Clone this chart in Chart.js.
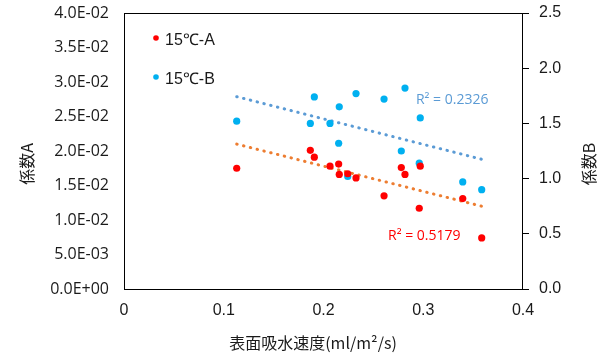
<!DOCTYPE html>
<html>
<head>
<meta charset="utf-8">
<script src="https://cdn.jsdelivr.net/npm/chart.js@4"></script>
<style>
  html, body { margin: 0; padding: 0; background: #fff; }
</style>
</head>
<body>
<canvas id="chart" width="599" height="354"></canvas>
<script>
// surface absorption rate (x) shared by both series
const absorption = [0.113, 0.1868, 0.1908, 0.2065, 0.2152, 0.2158, 0.2243, 0.2326, 0.2607, 0.278, 0.2817, 0.296, 0.297, 0.3396, 0.3586];
const coefA = [0.0175, 0.0201, 0.0191, 0.0178, 0.0181, 0.0166, 0.0167, 0.0161, 0.0135, 0.0176, 0.0166, 0.0117, 0.0178, 0.0131, 0.0074];
const coefB = [1.52, 1.50, 1.74, 1.50, 1.32, 1.65, 1.02, 1.77, 1.72, 1.25, 1.82, 1.14, 1.55, 0.97, 0.90];

// trendline end points
const trendX = [0.113, 0.3586];
const trendA = [0.0210, 0.0120];
const trendB = [1.742, 1.175];

const seriesNames = ["15℃-A", "15℃-B"];
const r2Labels = ["R² = 0.5179", "R² = 0.2326"];

const toPoints = (xs, ys) => xs.map((x, i) => ({ x: x, y: ys[i] }));

const tickFont = { family: "Liberation Sans", size: 16 };
const textColor = "#1a1a1a";

function sciLabel(v) {
  const parts = Number(v).toExponential(1).split("e");
  const sign = parts[1][0];
  const digits = parts[1].slice(1).padStart(2, "0");
  return parts[0] + "E" + sign + digits;
}

// fixed axis sizes so the plot box lands where it does in the original
function fixWidth(w) {
  return (s) => { s.width = w; s.paddingTop = 0; s.paddingBottom = 0; };
}

// box border, legend, R² text and axis titles
const decorations = {
  id: "decorations",
  beforeDatasetsDraw(chart) {
    const { ctx, chartArea: a } = chart;
    ctx.save();
    ctx.strokeStyle = "#000";
    ctx.lineWidth = 1;
    ctx.strokeRect(Math.round(a.left) + 0.5, Math.round(a.top) + 0.5,
      Math.round(a.right - a.left) - 1, Math.round(a.bottom - a.top));
    ctx.restore();
  },
  afterDraw(chart) {
    const { ctx, chartArea: a, scales } = chart;
    ctx.save();

    // legend inside plot
    const legendColors = ["#FF0000", "#00B0F0"];
    ctx.font = "16px 'Liberation Sans'";
    ctx.textBaseline = "middle";
    ctx.textAlign = "left";
    seriesNames.forEach((name, i) => {
      const y = a.top + 25 + i * 39;
      ctx.fillStyle = legendColors[i];
      ctx.beginPath();
      ctx.arc(a.left + 32, y, 2.8, 0, Math.PI * 2);
      ctx.fill();
      ctx.fillStyle = textColor;
      ctx.fillText(name, a.left + 41, y + 3);
    });

    // R² labels
    ctx.font = "14px 'Open Sans'";
    ctx.fillStyle = "#FF0000";
    ctx.fillText(r2Labels[0], scales.x.getPixelForValue(0.2647), scales.y.getPixelForValue(0.0077));
    ctx.fillStyle = "#5B9BD5";
    ctx.fillText(r2Labels[1], scales.x.getPixelForValue(0.2927), scales.y2.getPixelForValue(1.71));

    // axis titles
    ctx.fillStyle = textColor;
    ctx.font = "16px 'Noto Sans CJK JP'";
    ctx.textAlign = "center";
    ctx.save();
    ctx.translate(27, 164);
    ctx.rotate(-Math.PI / 2);
    ctx.fillText("係数A", 0, 0);
    ctx.restore();
    ctx.save();
    ctx.translate(589, 164);
    ctx.rotate(-Math.PI / 2);
    ctx.fillText("係数B", 0, 0);
    ctx.restore();
    ctx.fillText("表面吸水速度(ml/m²/s)", 313, 343);

    ctx.restore();
  }
};

const ctx = document.getElementById("chart").getContext("2d");
new Chart(ctx, {
  type: "scatter",
  data: {
    datasets: [
      {
        label: seriesNames[0],
        data: toPoints(absorption, coefA),
        yAxisID: "y",
        backgroundColor: "#FF0000",
        borderColor: "#FF0000",
        pointRadius: 3.6,
        borderWidth: 0
      },
      {
        label: seriesNames[1],
        data: toPoints(absorption, coefB),
        yAxisID: "y2",
        backgroundColor: "#00B0F0",
        borderColor: "#00B0F0",
        pointRadius: 3.6,
        borderWidth: 0
      },
      {
        label: "trend A",
        data: toPoints(trendX, trendA),
        yAxisID: "y",
        showLine: true,
        pointRadius: 0,
        borderColor: "#ED7D31",
        borderWidth: 3,
        borderDash: [0.5, 6.5],
        borderCapStyle: "round"
      },
      {
        label: "trend B",
        data: toPoints(trendX, trendB),
        yAxisID: "y2",
        showLine: true,
        pointRadius: 0,
        borderColor: "#5B9BD5",
        borderWidth: 3,
        borderDash: [0.5, 6.5],
        borderCapStyle: "round"
      }
    ]
  },
  options: {
    responsive: false,
    animation: false,
    layout: { padding: { top: 13, left: 0, right: 0, bottom: 0 } },
    plugins: {
      legend: { display: false },
      tooltip: { enabled: false }
    },
    scales: {
      x: {
        type: "linear",
        position: "bottom",
        min: 0,
        max: 0.4,
        ticks: {
          stepSize: 0.1,
          padding: 12,
          font: tickFont,
          color: textColor,
          callback: (v) => (v === 0 ? "0" : Number(v).toFixed(1))
        },
        grid: { display: false, drawTicks: false },
        border: { display: false },
        afterFit: (s) => { s.height = 65; s.paddingLeft = 0; s.paddingRight = 0; }
      },
      y: {
        position: "left",
        min: 0,
        max: 0.04,
        ticks: {
          stepSize: 0.005,
          padding: 15,
          font: { family: "Open Sans", size: 16 },
          color: textColor,
          callback: (v) => sciLabel(v)
        },
        grid: { display: false, drawTicks: false },
        border: { display: false },
        afterFit: fixWidth(124)
      },
      y2: {
        position: "right",
        min: 0,
        max: 2.5,
        ticks: {
          stepSize: 0.5,
          padding: 10,
          font: tickFont,
          color: textColor,
          callback: (v) => Number(v).toFixed(1)
        },
        grid: { drawOnChartArea: false, drawTicks: true, tickLength: 6, color: "#000" },
        border: { display: false },
        afterFit: fixWidth(76)
      }
    }
  },
  plugins: [decorations]
});
</script>
</body>
</html>
